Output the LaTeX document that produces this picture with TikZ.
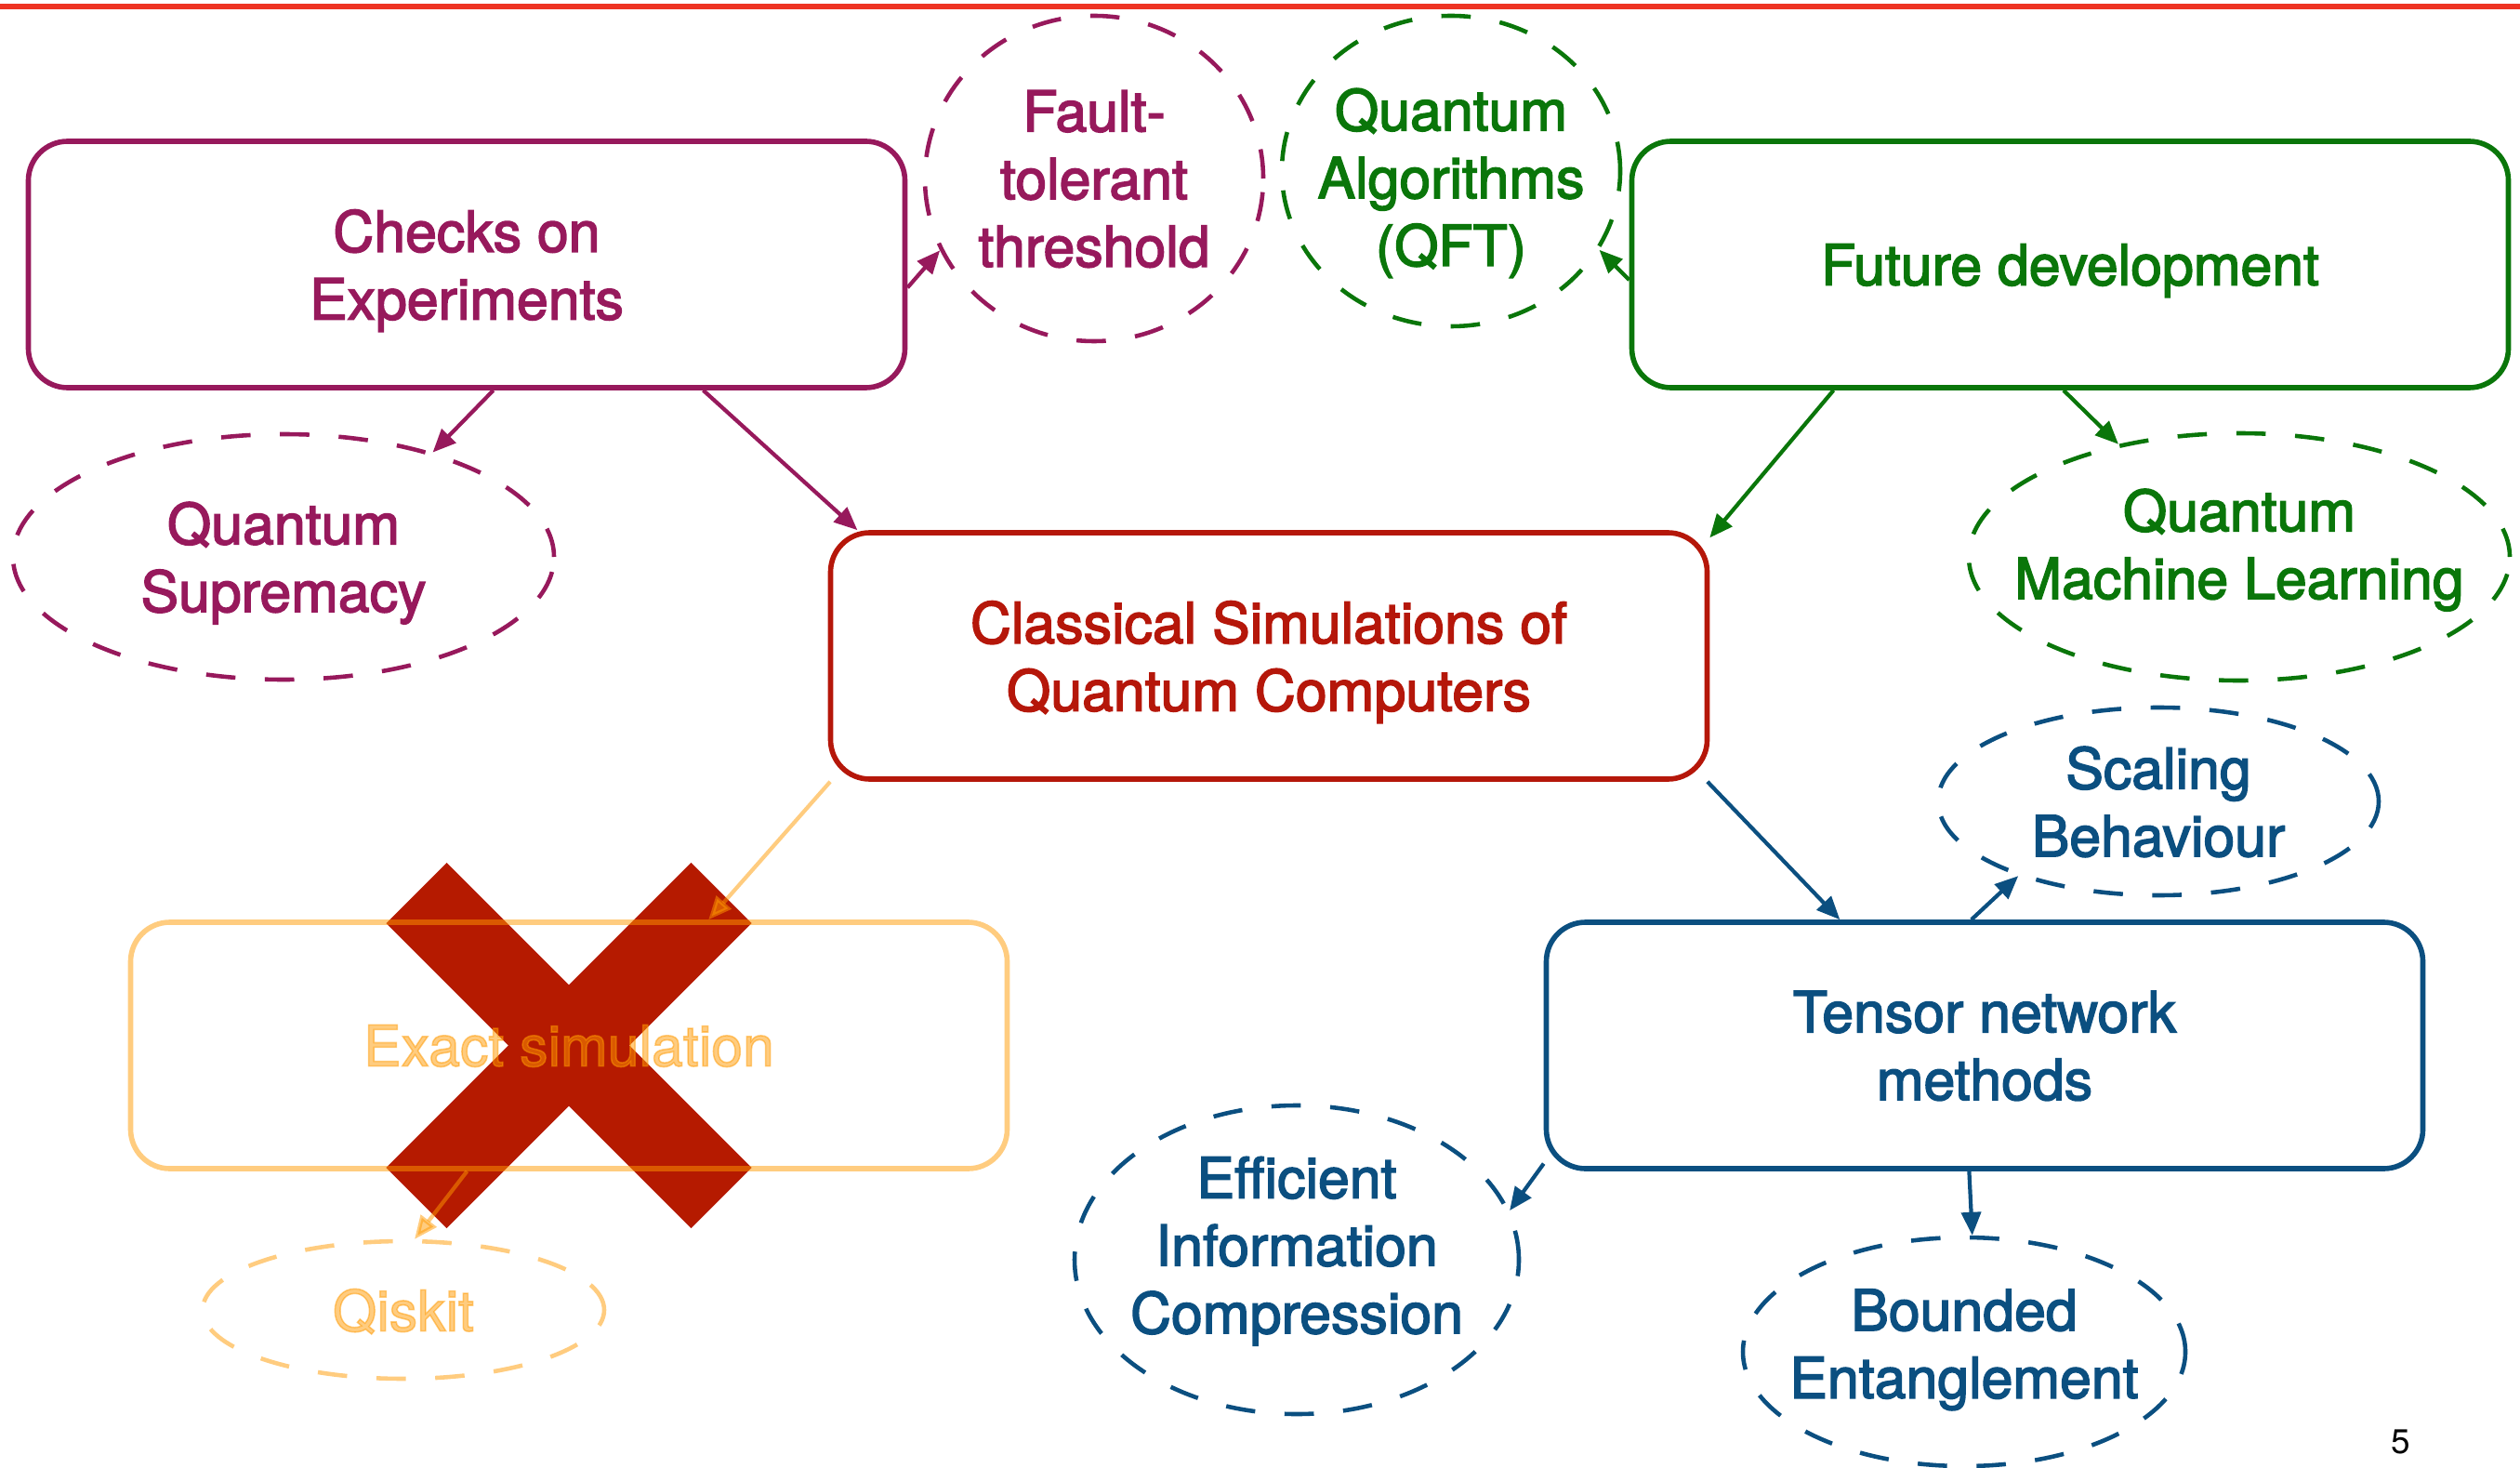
\documentclass[tikz,border=0pt]{standalone}
\usepackage{fontspec}
\setmainfont{TeX Gyre Heros}
\newfontfamily\diagfamily[FakeBold=2.5]{TeX Gyre Heros}
\usepackage{tikz}
\usetikzlibrary{arrows.meta,shapes.geometric,backgrounds}
\definecolor{chkpurple}{HTML}{97195C}
\definecolor{futgreen}{HTML}{0A760A}
\definecolor{simred}{HTML}{B5170A}
\definecolor{tnblue}{HTML}{0B4F80}
\definecolor{exorange}{HTML}{FF9900}
\definecolor{crossred}{HTML}{B51A00}
\definecolor{rulered}{HTML}{EE3322}
\newcommand{\diagfont}{\diagfamily\fontsize{17.3}{20.7}\selectfont}
\tikzset{
  box/.style  ={rounded corners=12pt,line width=1.6pt,inner sep=0pt,align=center,
                minimum width=9.43cm,minimum height=2.65cm,text depth=0pt,font=\diagfont},
  idea/.style ={ellipse,dash pattern=on 9pt off 9pt,line width=1.3pt,inner sep=-1.5cm,
                align=center,text depth=0pt,font=\diagfont},
  link/.style ={-{Triangle[length=2.5mm,width=2.1mm]},line width=1.2pt},
  faded/.style={draw opacity=0.5,fill opacity=0.5,text opacity=0.5},
  cross/.style={line width=0.92cm,draw=crossred}
}

\begin{document}
\begin{tikzpicture}
    \useasboundingbox (0,0) rectangle (27.11,15.78);
    \fill[rulered] (0,15.735) rectangle (27.11,15.68);
    % main topics
    \node[box,draw=chkpurple,text=chkpurple] (checks) at (5.02,12.935) {Checks on\\Experiments};
    \node[box,draw=futgreen,text=futgreen] (future) at (22.27,12.935) {Future development};
    \node[box,draw=simred,text=simred] (classical) at (13.65,8.725) {Classical Simulations of\\Quantum Computers};
    \node[box,draw=exorange,text=exorange,faded] (exact) at (6.12,4.535) {Exact simulation};
    \node[box,draw=tnblue,text=tnblue] (tensor) at (21.35,4.535) {Tensor network\\methods};
    % side ideas
    \node[idea,draw=chkpurple,text=chkpurple,minimum width=3.64cm,minimum height=3.50cm] (fault) at (11.77,13.86) {Fault-\\tolerant\\threshold};
    \node[idea,draw=futgreen,text=futgreen,minimum width=3.64cm,minimum height=3.34cm,text height=58pt] (qft) at (15.61,13.94) {Quantum\\Algorithms\\(QFT)};
    \node[idea,draw=chkpurple,text=chkpurple,minimum width=5.82cm,minimum height=2.64cm] (supremacy) at (3.05,9.79) {Quantum\\Supremacy};
    \node[idea,draw=futgreen,text=futgreen,minimum width=5.82cm,minimum height=2.66cm,text depth=8pt] (qml) at (24.09,9.79) {Quantum\\Machine Learning};
    \node[idea,draw=tnblue,text=tnblue,minimum width=4.74cm,minimum height=2.02cm] (scaling) at (23.22,7.16) {Scaling\\Behaviour};
    \node[idea,draw=tnblue,text=tnblue,minimum width=4.78cm,minimum height=3.32cm,text depth=9pt] (efficient) at (13.95,2.23) {Efficient\\Information\\Compression};
    \node[idea,draw=tnblue,text=tnblue,minimum width=4.76cm,minimum height=2.46cm,text depth=5pt] (bounded) at (21.13,1.24) {Bounded\\Entanglement};
    \node[idea,draw=exorange,text=exorange,faded,minimum width=4.32cm,minimum height=1.48cm] (qiskit) at (4.34,1.69) {Qiskit};
    \node[font=\fontsize{10.5}{12}\selectfont] (pagenum) at (25.83,0.27) {5};
    % struck-out branch
    \begin{scope}[on background layer]
      \draw[cross] ([shift={(-1.64,1.64)}]exact.center) -- ([shift={(1.64,-1.64)}]exact.center);
      \draw[cross] ([shift={(1.64,1.64)}]exact.center) -- ([shift={(-1.64,-1.64)}]exact.center);
    \end{scope}
    % links
    \draw[link,chkpurple] (checks.-3.2) -- (fault.205.4);
    \draw[link,chkpurple] (checks.-78.5) -- (supremacy.35.2);
    \draw[link,chkpurple] (checks.-28) -- (classical.163.7);
    \draw[link,futgreen] (future.182.85) -- (qft.-28);
    \draw[link,futgreen] (future.208.5) -- (classical.15);
    \draw[link,futgreen] (future.-93.9) -- (qml.137.6);
    \draw[link,exorange,opacity=0.5] (classical.196.6) -- (exact.42.6);
    \draw[link,exorange,opacity=0.5] (exact.231.1) -- (qiskit.81);
    \draw[link,tnblue] (classical.-16.3) -- (tensor.139.5);
    \draw[link,tnblue] (tensor.96) -- (scaling.208.3);
    \draw[link,tnblue] (tensor.195.1) -- (efficient.13.4);
    \draw[link,tnblue] (tensor.263.5) -- (bounded.86.8);
\end{tikzpicture}
\end{document}
